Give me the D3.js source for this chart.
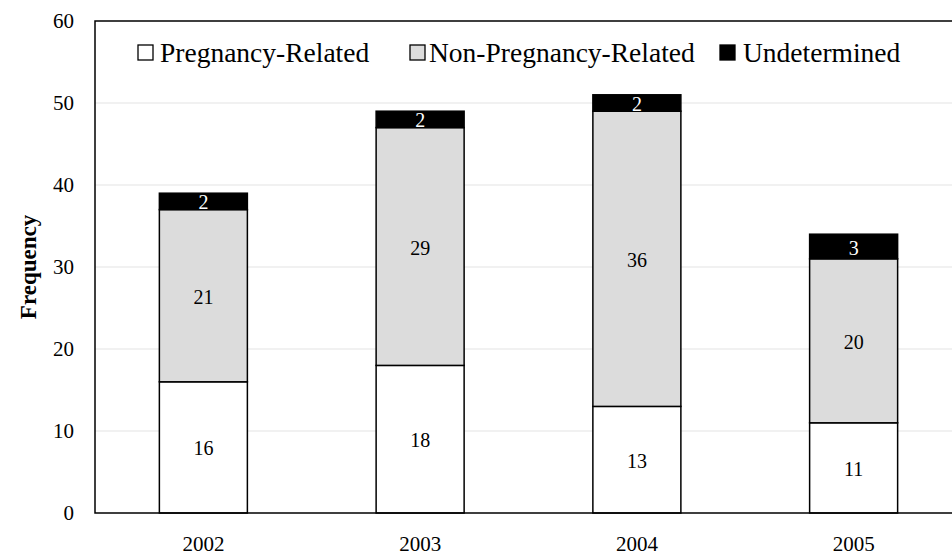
<!DOCTYPE html>
<html><head><meta charset="utf-8">
<script src="https://cdn.jsdelivr.net/npm/d3@7"></script>
<style>body{margin:0;background:#fff}svg{display:block}</style>
</head><body>
<svg id="c" width="952" height="556"></svg>
<script>
const categories = ["2002","2003","2004","2005"];
const pregnancyRelated = [16,18,13,11];
const nonPregnancyRelated = [21,29,36,20];
const undetermined = [2,2,2,3];
const seriesNames = ["Pregnancy-Related","Non-Pregnancy-Related","Undetermined"];
const seriesColors = ["#ffffff","#dcdcdc","#000000"];
const labelColors = ["#000","#000","#fff"];
const yTicks = [0,10,20,30,40,50,60];

(function(){
const svg = d3.select("#c");
const font = "'Liberation Serif','Times New Roman',serif";
const pLeft = 95, pTop = 21, pBottom = 513, pRight = 962;

const x = d3.scaleBand().domain(categories).range([pLeft, pRight]).paddingInner(0.594).paddingOuter(0.297);
const y = d3.scaleLinear().domain([0,60]).range([pBottom, pTop]);

svg.append("g").selectAll("line").data(yTicks.filter(d=>d>0 && d<60)).join("line")
  .attr("x1", pLeft).attr("x2", pRight).attr("y1", d=>y(d)).attr("y2", d=>y(d))
  .attr("stroke", "#ededed").attr("stroke-width", 1.5);

const rows = categories.map((c,i)=>({cat:c, "Pregnancy-Related":pregnancyRelated[i], "Non-Pregnancy-Related":nonPregnancyRelated[i], "Undetermined":undetermined[i]}));
const stack = d3.stack().keys(seriesNames)(rows);

stack.forEach((s,si)=>{
  const g = svg.append("g");
  g.selectAll("rect").data(s).join("rect")
    .attr("x", d=>x(d.data.cat)).attr("width", x.bandwidth())
    .attr("y", d=>y(d[1])).attr("height", d=>y(d[0])-y(d[1]))
    .attr("fill", seriesColors[si]).attr("stroke","#000").attr("stroke-width",1.5);
  g.selectAll("text").data(s).join("text")
    .attr("x", d=>x(d.data.cat)+x.bandwidth()/2)
    .attr("y", d=>y((d[0]+d[1])/2)+1)
    .attr("dy","0.35em").attr("text-anchor","middle")
    .attr("font-family", font).attr("font-size", 20).attr("fill", labelColors[si])
    .text(d=>d[1]-d[0]);
});

svg.append("path").attr("d", `M${pRight},${pTop}H${pLeft}V${pBottom}H${pRight}`)
  .attr("fill","none").attr("stroke","#000").attr("stroke-width",1.5);

svg.append("g").selectAll("text").data(yTicks).join("text")
  .attr("x", 74).attr("y", d=>y(d)).attr("dy","0.35em").attr("text-anchor","end")
  .attr("font-family", font).attr("font-size", 21).text(d=>d);

svg.append("g").selectAll("text").data(categories).join("text")
  .attr("x", d=>x(d)+x.bandwidth()/2).attr("y", 544).attr("dy","0.35em").attr("text-anchor","middle")
  .attr("font-family", font).attr("font-size", 21).text(d=>d);

svg.append("text").attr("transform","translate(28,267) rotate(-90)")
  .attr("text-anchor","middle").attr("dy","0.35em")
  .attr("font-family", font).attr("font-size", 23).attr("font-weight","bold").text("Frequency");

const legX = [138, 410, 720];
const legOff = [22, 19, 23];
const leg = svg.append("g");
seriesNames.forEach((n,i)=>{
  leg.append("rect").attr("x", legX[i]).attr("y", 45).attr("width", 15).attr("height", 15)
    .attr("fill", seriesColors[i]).attr("stroke","#000").attr("stroke-width",1.3);
  leg.append("text").attr("x", legX[i]+legOff[i]).attr("y", 62)
    .attr("font-family", font).attr("font-size", 27.5).text(n);
});
})();
</script>
</body></html>
